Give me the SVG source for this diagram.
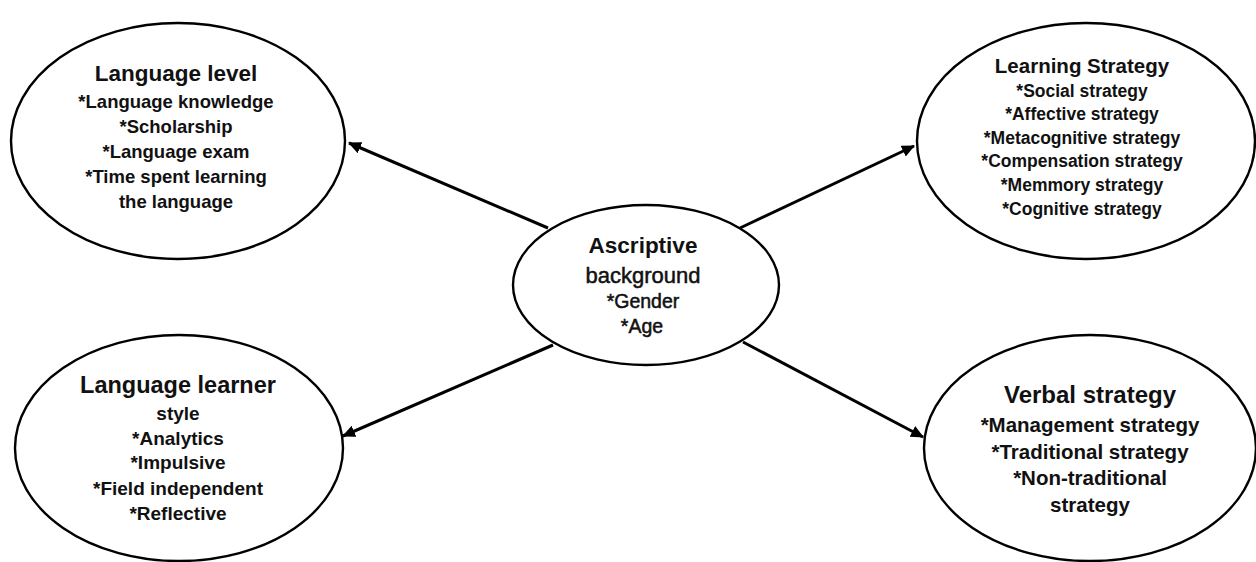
<svg xmlns="http://www.w3.org/2000/svg" width="1256" height="562" viewBox="0 0 1256 562">
<style>
.node ellipse{fill:#fff;stroke:#000;stroke-width:2.4}
text{font-family:"Liberation Sans",Arial,sans-serif;fill:#111;text-anchor:middle;font-weight:bold}
.t{font-size:22px}
.b{font-size:18px}
.n{font-weight:normal;stroke:#111;stroke-width:0.5}
.conn line{stroke:#000;stroke-width:3}
</style>
<defs>
<marker id="ah" markerUnits="userSpaceOnUse" markerWidth="14" markerHeight="12" refX="12" refY="6" orient="auto">
<path d="M0,0 L13,6 L0,12 Z" fill="#000"/>
</marker>
</defs>
<g class="conn" id="connectors">
<line x1="548" y1="228" x2="349" y2="143" marker-end="url(#ah)"/>
<line x1="740" y1="228" x2="914" y2="146" marker-end="url(#ah)"/>
<line x1="553" y1="345" x2="343" y2="436" marker-end="url(#ah)"/>
<line x1="743" y1="342" x2="923" y2="437" marker-end="url(#ah)"/>
</g>
<g class="node" id="language-level">
<ellipse cx="178" cy="141" rx="167" ry="118"/>
<text class="t" x="176" y="81" style="font-size:22.5px">Language level</text>
<text class="b" x="176" y="108" style="font-size:18.5px">*Language knowledge</text>
<text class="b" x="176" y="133" style="font-size:18.5px">*Scholarship</text>
<text class="b" x="176" y="158" style="font-size:18.5px">*Language exam</text>
<text class="b" x="176" y="183" style="font-size:18.5px">*Time spent learning</text>
<text class="b" x="176" y="208" style="font-size:18.5px">the language</text>
</g>
<g class="node" id="learning-strategy">
<ellipse cx="1086" cy="141" rx="169" ry="118"/>
<text x="1082" y="73" style="font-size:20.5px">Learning Strategy</text>
<text x="1082" y="97" style="font-size:17.5px">*Social strategy</text>
<text x="1082" y="120" style="font-size:17.5px">*Affective strategy</text>
<text x="1082" y="144" style="font-size:17.5px">*Metacognitive strategy</text>
<text x="1082" y="167" style="font-size:17.5px">*Compensation strategy</text>
<text x="1082" y="191" style="font-size:17.5px">*Memmory strategy</text>
<text x="1082" y="215" style="font-size:17.5px">*Cognitive strategy</text>
</g>
<g class="node" id="ascriptive">
<ellipse cx="646" cy="285" rx="133" ry="80"/>
<text x="643" y="253" style="font-size:22.5px">Ascriptive</text>
<text class="n" x="643" y="283" style="font-size:22px">background</text>
<text class="n" x="643" y="308" style="font-size:19.5px">*Gender</text>
<text class="n" x="642" y="333" style="font-size:19.5px">*Age</text>
</g>
<g class="node" id="learner-style">
<ellipse cx="179" cy="448" rx="164" ry="113"/>
<text x="178" y="393" style="font-size:23.5px">Language learner</text>
<text x="178" y="420" style="font-size:19px">style</text>
<text x="178" y="445" style="font-size:19px">*Analytics</text>
<text x="178" y="469" style="font-size:19px">*Impulsive</text>
<text x="178" y="495" style="font-size:19px">*Field independent</text>
<text x="178" y="520" style="font-size:19px">*Reflective</text>
</g>
<g class="node" id="verbal-strategy">
<ellipse cx="1090" cy="448" rx="166" ry="113"/>
<text x="1090" y="403" style="font-size:24px">Verbal strategy</text>
<text x="1090" y="432" style="font-size:20.5px">*Management strategy</text>
<text x="1090" y="459" style="font-size:20.5px">*Traditional strategy</text>
<text x="1090" y="485" style="font-size:20.5px">*Non-traditional</text>
<text x="1090" y="512" style="font-size:20.5px">strategy</text>
</g>
</svg>
